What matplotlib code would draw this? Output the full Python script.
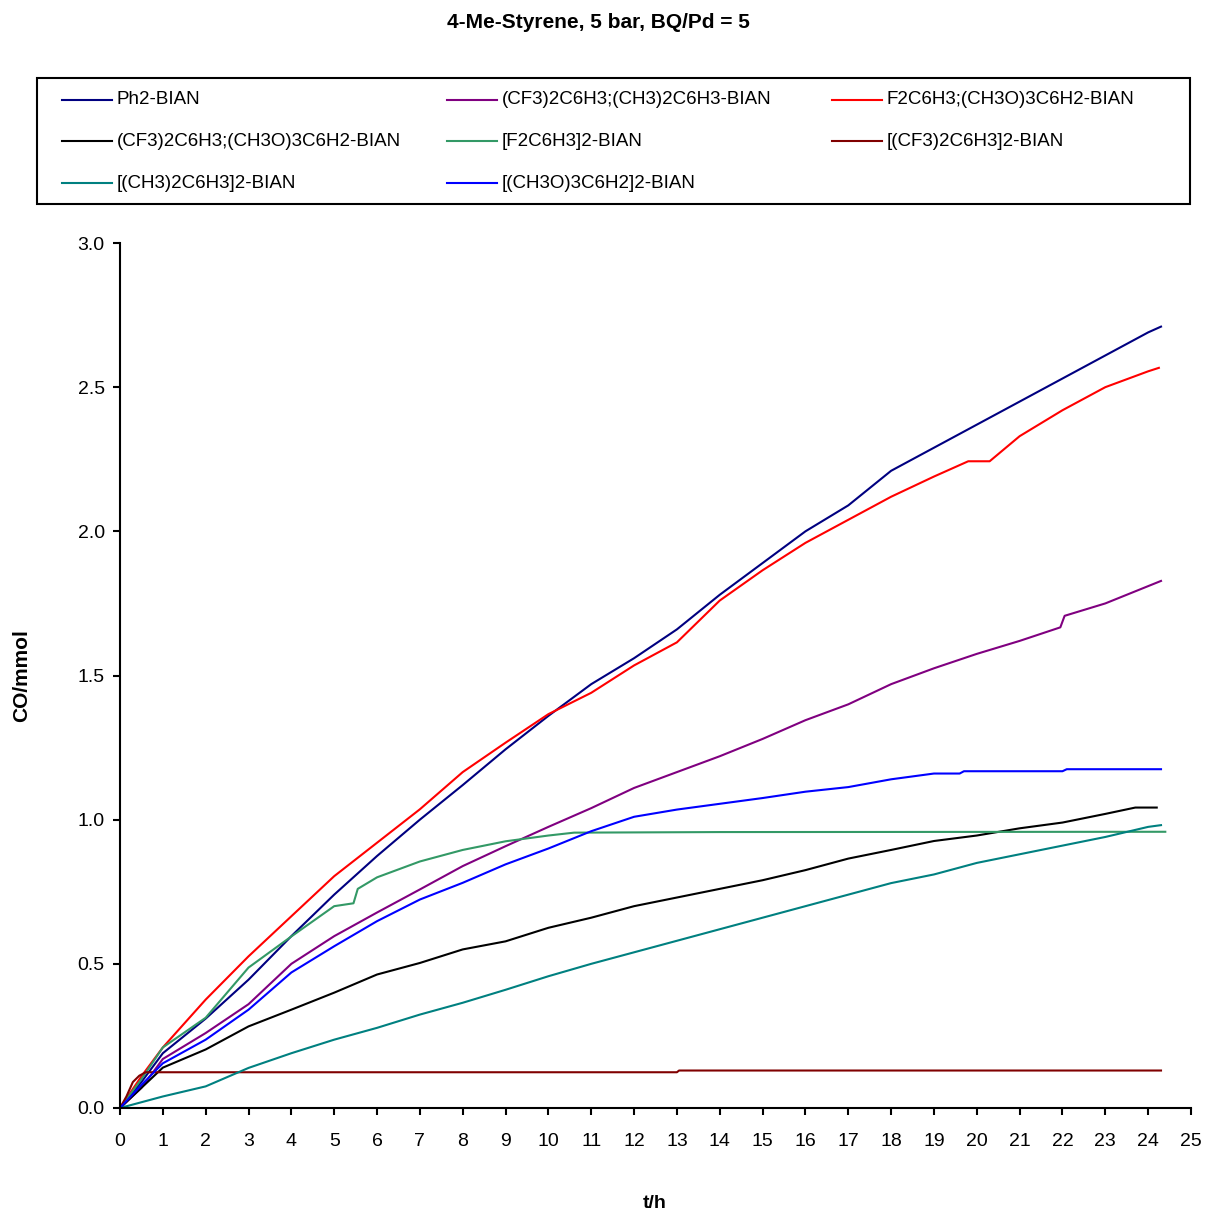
import matplotlib
matplotlib.use("Agg")
import matplotlib.pyplot as plt
from matplotlib.lines import Line2D
from matplotlib.patches import Rectangle
from matplotlib.ticker import MultipleLocator, FormatStrFormatter

plt.rcParams['font.family'] = ['Liberation Sans', 'DejaVu Sans']

title = "4-Me-Styrene, 5 bar, BQ/Pd = 5"
x_label = "t/h"
y_label = "CO/mmol"

names = [
    "Ph2-BIAN",
    "(CF3)2C6H3;(CH3)2C6H3-BIAN",
    "F2C6H3;(CH3O)3C6H2-BIAN",
    "(CF3)2C6H3;(CH3O)3C6H2-BIAN",
    "[F2C6H3]2-BIAN",
    "[(CF3)2C6H3]2-BIAN",
    "[(CH3)2C6H3]2-BIAN",
    "[(CH3O)3C6H2]2-BIAN",
]
colors = ["#000080", "#800080", "#ff0000", "#000000",
          "#339966", "#800000", "#008080", "#0000ff"]

# Ph2-BIAN
t_ph2 = [0, 0.5, 1, 2, 3, 4, 5, 6, 7, 8, 9, 10, 11, 12, 13, 14, 15, 16, 17, 18, 19, 20, 21, 22, 23, 24, 24.3]
co_ph2 = [0, 0.09, 0.19, 0.31, 0.445, 0.596, 0.74, 0.874, 1.00, 1.12, 1.244, 1.36, 1.47, 1.56, 1.66, 1.78,
          1.89, 2.00, 2.09, 2.21, 2.29, 2.37, 2.45, 2.53, 2.61, 2.69, 2.71]

# (CF3)2C6H3;(CH3)2C6H3-BIAN
t_cf3_ch3 = [0, 0.5, 1, 2, 3, 4, 5, 6, 7, 8, 9, 10, 11, 12, 13, 14, 15, 16, 17, 18, 19, 20, 21, 21.95, 22.05, 23, 24, 24.3]
co_cf3_ch3 = [0, 0.07, 0.17, 0.26, 0.36, 0.50, 0.596, 0.678, 0.758, 0.839, 0.908, 0.975, 1.04, 1.11, 1.165, 1.22,
              1.28, 1.345, 1.40, 1.47, 1.525, 1.575, 1.62, 1.667, 1.707, 1.75, 1.81, 1.828]

# F2C6H3;(CH3O)3C6H2-BIAN
t_f2_och3 = [0, 0.5, 1, 2, 3, 4, 5, 6, 7, 8, 9, 10, 11, 12, 13, 14, 15, 16, 17, 18, 19, 19.8, 20.3, 21, 22, 23, 24, 24.25]
co_f2_och3 = [0, 0.11, 0.21, 0.376, 0.526, 0.665, 0.804, 0.92, 1.036, 1.165, 1.267, 1.366, 1.44, 1.535, 1.615, 1.76,
              1.865, 1.96, 2.04, 2.12, 2.19, 2.243, 2.243, 2.33, 2.42, 2.50, 2.555, 2.567]

# (CF3)2C6H3;(CH3O)3C6H2-BIAN
t_cf3_och3 = [0, 0.5, 1, 2, 3, 4, 5, 6, 7, 8, 9, 10, 11, 12, 13, 14, 15, 16, 17, 18, 19, 20, 21, 22, 23, 23.7, 24.2]
co_cf3_och3 = [0, 0.07, 0.14, 0.203, 0.283, 0.341, 0.40, 0.463, 0.503, 0.55, 0.578, 0.625, 0.66, 0.70, 0.73, 0.76,
               0.79, 0.825, 0.865, 0.895, 0.926, 0.945, 0.97, 0.99, 1.02, 1.042, 1.042]

# [F2C6H3]2-BIAN
t_f2 = [0, 0.5, 1, 2, 3, 4, 5, 5.45, 5.55, 6, 7, 8, 9, 10, 10.6, 14, 24.4]
co_f2 = [0, 0.10, 0.21, 0.313, 0.487, 0.595, 0.70, 0.71, 0.76, 0.80, 0.855, 0.895, 0.925, 0.945, 0.955, 0.957, 0.958]

# [(CF3)2C6H3]2-BIAN
t_cf3 = [0, 0.15, 0.3, 0.45, 0.6, 13.0, 13.05, 24.3]
co_cf3 = [0, 0.04, 0.09, 0.112, 0.124, 0.124, 0.13, 0.13]

# [(CH3)2C6H3]2-BIAN
t_ch3 = [0, 0.5, 1, 2, 3, 4, 5, 6, 7, 8, 9, 10, 11, 12, 13, 14, 15, 16, 17, 18, 19, 20, 21, 22, 23, 24, 24.3]
co_ch3 = [0, 0.02, 0.04, 0.075, 0.139, 0.19, 0.237, 0.278, 0.324, 0.365, 0.41, 0.457, 0.50, 0.54, 0.58, 0.62,
          0.66, 0.70, 0.74, 0.78, 0.81, 0.85, 0.88, 0.91, 0.94, 0.975, 0.981]

# [(CH3O)3C6H2]2-BIAN
t_och3 = [0, 0.5, 1, 2, 3, 4, 5, 6, 7, 8, 9, 10, 11, 12, 13, 14, 15, 16, 17, 18, 19, 19.6, 19.7, 22.0, 22.1, 24.3]
co_och3 = [0, 0.08, 0.155, 0.237, 0.341, 0.47, 0.561, 0.648, 0.723, 0.781, 0.845, 0.90, 0.96, 1.01, 1.035, 1.055,
           1.075, 1.097, 1.113, 1.14, 1.16, 1.16, 1.168, 1.168, 1.175, 1.175]

series = [(t_ph2, co_ph2), (t_cf3_ch3, co_cf3_ch3), (t_f2_och3, co_f2_och3),
          (t_cf3_och3, co_cf3_och3), (t_f2, co_f2), (t_cf3, co_cf3),
          (t_ch3, co_ch3), (t_och3, co_och3)]

W, H = 1206, 1214
fig = plt.figure(figsize=(W / 100, H / 100), dpi=100)
ax = fig.add_axes([120 / W, 1 - 1108 / H, (1191 - 120) / W, (1108 - 243) / H])

for (t, v), c in zip(series, colors):
    ax.plot(t, v, color=c, lw=1.5)

ax.set_xlim(0, 25)
ax.set_ylim(0, 3.0)
ax.xaxis.set_major_locator(MultipleLocator(1))
ax.yaxis.set_major_locator(MultipleLocator(0.5))
ax.yaxis.set_major_formatter(FormatStrFormatter('%.1f'))
for s in ['top', 'right']:
    ax.spines[s].set_visible(False)
for s in ['left', 'bottom']:
    ax.spines[s].set_linewidth(1.5)
ax.tick_params(direction='out', length=5, width=1.5, labelsize=14)
ax.tick_params(axis='x', pad=13)
ax.tick_params(axis='y', pad=6)

fig.text(598 / W, 1 - 22 / H, title, ha='center', va='center', fontsize=15, fontweight='bold')
fig.text(22 / W, 1 - 676 / H, y_label, ha='center', va='center', rotation=90, fontsize=15, fontweight='bold')
fig.text(655 / W, 1 - 1204 / H, x_label, ha='center', va='center', fontsize=14, fontweight='bold')

# legend box
fig.patches.append(Rectangle((37 / W, 1 - 204 / H), (1190 - 37) / W, (204 - 78) / H,
                             transform=fig.transFigure, fill=False, edgecolor='black', lw=1.5))
col_x = [62, 447, 832]
row_y = [100, 141, 183]
for i, (name, c) in enumerate(zip(names, colors)):
    r, col = divmod(i, 3)
    x0 = col_x[col]
    y0 = 1 - row_y[r] / H
    fig.lines.append(Line2D([x0 / W, (x0 + 50) / W], [y0, y0], transform=fig.transFigure, color=c, lw=1.5))
    fig.text((x0 + 55) / W, y0, name, ha='left', va='center', fontsize=13.5)

fig.savefig("out.png", dpi=100)
